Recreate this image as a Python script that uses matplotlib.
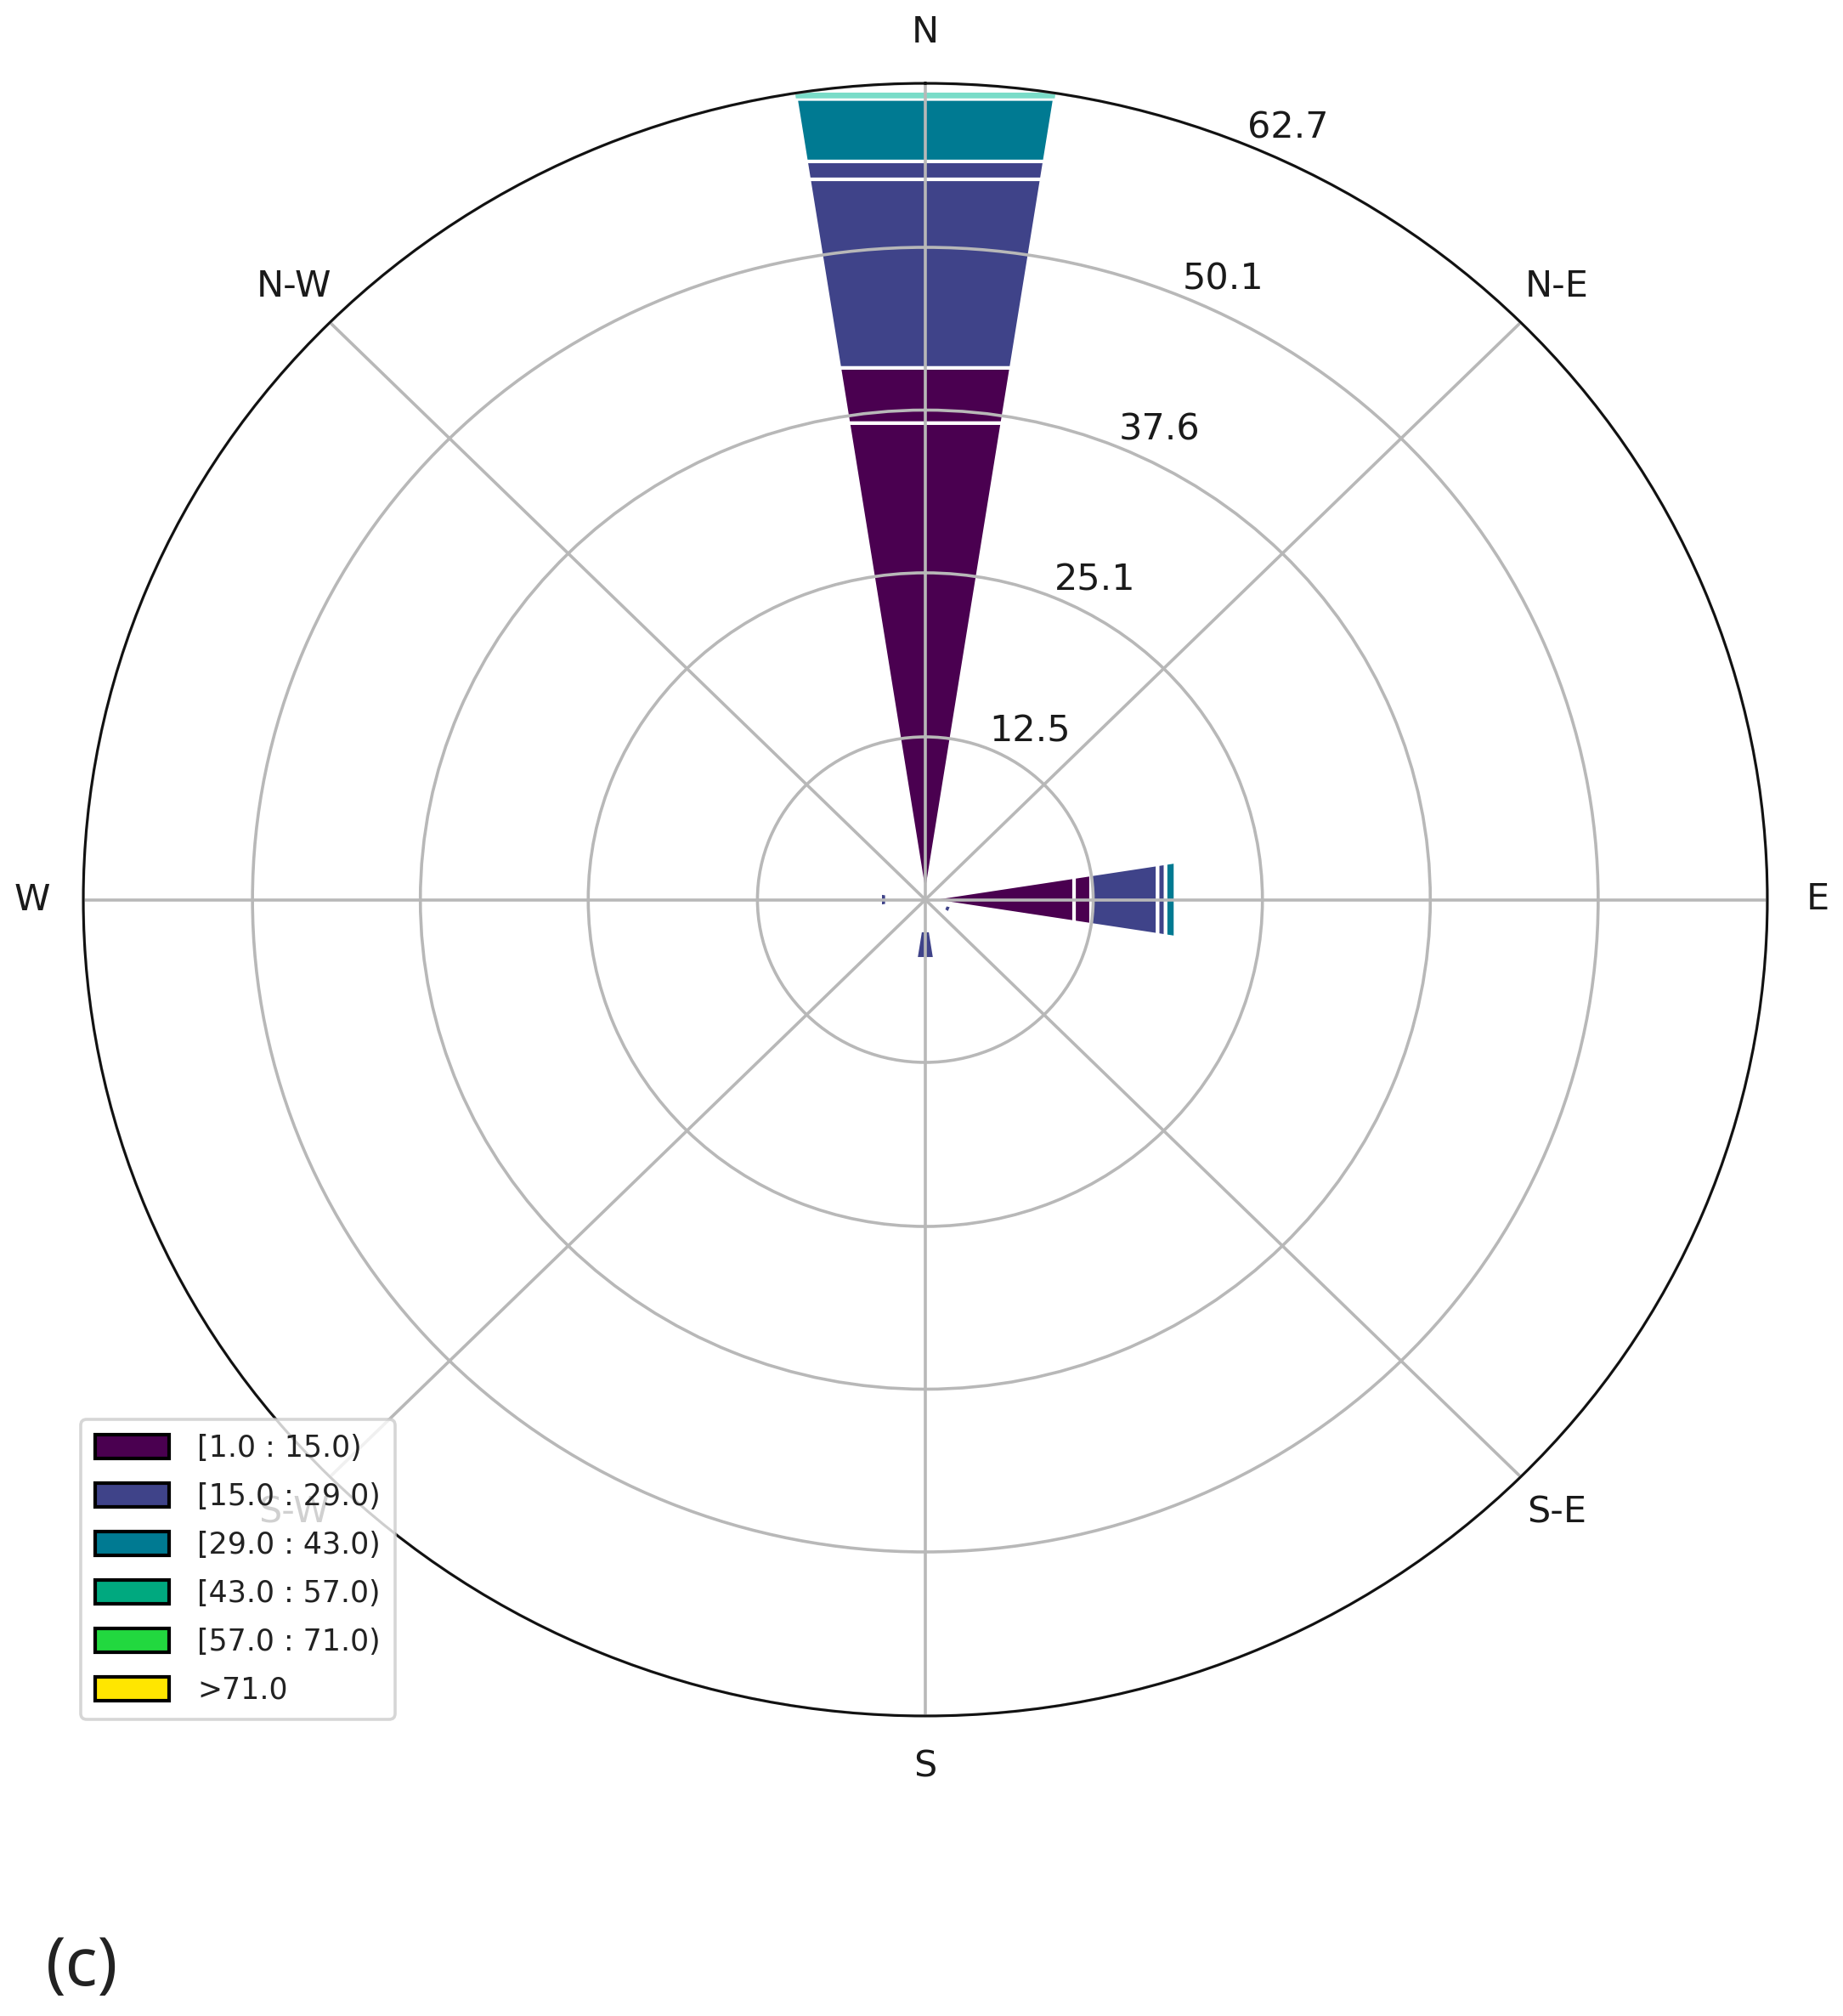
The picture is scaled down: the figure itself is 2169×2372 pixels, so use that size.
import numpy as np
import matplotlib
matplotlib.use('Agg')
import matplotlib.pyplot as plt
from matplotlib.patches import Rectangle, Patch

# speed bins
bin_labels = ['[1.0 : 15.0)', '[15.0 : 29.0)', '[29.0 : 43.0)', '[43.0 : 57.0)', '[57.0 : 71.0)', '>71.0']
bin_colors = ['#4a0050', '#3f4389', '#007a92', '#00a97f', '#22d83f', '#ffe600']
strip_color = '#7adcc8'

dir_angles = [0, 45, 90, 135, 180, 225, 270, 315]
dir_labels = ['N', 'N-E', 'E', 'S-E', 'S', 'S-W', 'W', 'N-W']
r_ticks = [12.5, 25.1, 37.6, 50.1, 62.7]

# stacked segments per direction (heights)
north_heights = [37.05, 4.29, 14.66, 1.39, 4.85]
north_bins = [0, 0, 1, 1, 2]
north_strip = 0.45
east_heights = [11.21, 1.28, 5.02, 0.60, 0.74]
east_bins = [0, 0, 1, 1, 2]
# the small ones only show their outer segment
south_start, south_height = 2.4, 2.2
west_start, west_height = 2.9, 0.5
ese_start, ese_height = 1.55, 0.5

W, H = 2169, 2372
fig = plt.figure(figsize=(W / 100, H / 100), dpi=100)
ax = fig.add_axes([98 / W, 1 - 2019 / H, (2080 - 98) / W, (2019 - 98) / H], projection='polar')
ax.set_aspect('auto')
ax.set_theta_zero_location('N')
ax.set_theta_direction(-1)

bar_width = np.radians(17.8)


def stack(angle, heights, bins, bottom=0):
    for h, b in zip(heights, bins):
        ax.add_patch(Rectangle((np.radians(angle) - bar_width / 2, bottom), bar_width, h,
                               facecolor=bin_colors[b], edgecolor='white', linewidth=3.0))
        bottom += h
    return bottom


top = stack(0, north_heights, north_bins)
ax.add_patch(Rectangle((-bar_width / 2, top + 0.05), bar_width, north_strip,
                       facecolor=strip_color, edgecolor='none'))
stack(90, east_heights, east_bins)
stack(180, [south_height], [1], south_start)
stack(270, [west_height], [1], west_start)
stack(112.5, [ese_height], [1], ese_start)

ax.set_thetagrids(dir_angles, dir_labels, fontsize=31, color='#1a1a1a')
ax.set_rgrids(r_ticks, [str(t) for t in r_ticks], fontsize=31, color='#1a1a1a')
ax.set_rlim(0, 62.7)
ax.tick_params(axis='x', length=0, pad=36)
ax.tick_params(axis='y', length=0)
ax.grid(True, color='#b8b8b8', linewidth=2.6)
ax.spines['polar'].set_linewidth(2.2)
ax.spines['polar'].set_color('#111111')

handles = [Patch(facecolor=c, edgecolor='black', linewidth=3.0, label=l)
           for c, l in zip(bin_colors, bin_labels)]
ax.legend(handles=handles, loc='lower left', bbox_to_anchor=(95 / W, 1 - 2023 / H),
          bbox_transform=fig.transFigure, borderaxespad=0, fontsize=25,
          handlelength=2.5, handleheight=0.86, handletextpad=0.95, labelspacing=0.66,
          borderpad=0.5, framealpha=0.8, labelcolor='#222222').get_frame().set_linewidth(2.6)

fig.text(54 / W, 1 - 2315 / H, '(c)', fontsize=57, family='Noto Sans', color='#222222',
         ha='left', va='center')

fig.savefig('out.png', dpi=100)
